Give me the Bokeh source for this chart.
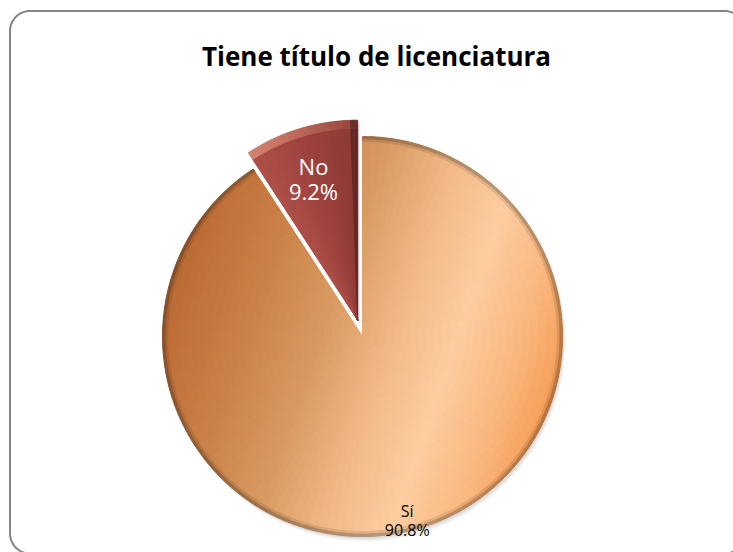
import numpy as np
from bokeh.plotting import figure
from bokeh.models import Range1d, ColumnDataSource, Label
from bokeh.core.properties import value
from bokeh.embed import file_html
from bokeh.resources import INLINE

# ---- data ----
categories = ["Sí", "No"]
shares = [90.8, 9.2]
slice_colors = ["#EEAD77", "#A4463F"]
label_colors = ["#000000", "#FFFFFF"]
label_sizes = ["16px", "22px"]
explode = [0, 17]
title_text = "Tiene título de licenciatura"

# ---- geometry (data space == screen pixels; data y upward) ----
W, H = 733, 552
cx, cy, R = 362, H - 336, 200

frac = np.array(shares) / 100.0
cum = np.concatenate([[0], np.cumsum(frac)]) * 2 * np.pi
start = np.pi / 2 - cum[:-1]
end = np.pi / 2 - cum[1:]
mid = (start + end) / 2
off = np.array(explode, dtype=float)
xs = cx + off * np.cos(mid)
ys = cy + off * np.sin(mid)

lab_r = np.array([0.96, 0.74]) * R
lab_dx = np.array([-10, -2])
lx = xs + lab_r * np.cos(mid) + lab_dx
ly = ys + lab_r * np.sin(mid)
texts = [f"{c}\n{s:.1f}%" for c, s in zip(categories, shares)]

src = ColumnDataSource(dict(x=xs, y=ys, start=start, end=end, color=slice_colors,
                            lx=lx, ly=ly, text=texts, tcolor=label_colors,
                            tsize=label_sizes, cat=categories))

p = figure(width=W, height=H, x_range=Range1d(0, W), y_range=Range1d(0, H),
           output_backend="svg", toolbar_location=None, min_border=0,
           background_fill_color="white", border_fill_color="white")
p.axis.visible = False
p.grid.visible = False
p.outline_line_color = None


# ---- helpers for shading ----
def hex2rgb(h):
    h = h.lstrip("#")
    return np.array([int(h[i:i + 2], 16) for i in (0, 2, 4)], dtype=float)


def rgb2hex(c):
    c = np.clip(np.round(c), 0, 255).astype(int)
    return "#%02x%02x%02x" % tuple(c)


def interp_color(t, stops, cols):
    cols = np.array([hex2rgb(c) for c in cols])
    return np.array([np.interp(t, stops, cols[:, k]) for k in range(3)])


def mix(a, b, t):
    return a * (1 - t) + b * t


# chart-area rounded border (runs off the visible page like the reference)
def rounded_rect(x0, y0, x1, y1, r, n=20):
    pts = []
    for (ccx, ccy, a0) in [(x1 - r, y1 - r, 0), (x0 + r, y1 - r, 90),
                           (x0 + r, y0 + r, 180), (x1 - r, y0 + r, 270)]:
        a = np.radians(np.linspace(a0, a0 + 90, n))
        pts += list(zip(ccx + r * np.cos(a), ccy + r * np.sin(a)))
    pts.append(pts[0])
    return [q[0] for q in pts], [q[1] for q in pts]


bx, by = rounded_rect(9.5, H - 553, 744, H - 10.5, 20)
p.line(bx, by, line_color="#858585", line_width=2)

# soft drop shadow
for k, a in zip([5, 3.5, 2], [0.04, 0.05, 0.06]):
    p.wedge(x=xs + k * 0.6, y=ys - k, radius=R, start_angle=start, end_angle=end,
            direction="clock", fill_color="#000000", fill_alpha=a, line_color=None)

# base slices
p.wedge(x="x", y="y", radius=R, start_angle="start", end_angle="end",
        direction="clock", source=src, fill_color="color", line_color=None)


# shading cells (subdivisions of each slice, built from the slice angles)
def si_color(sx, sy, r):
    u = ((sx - cx) * 0.944 + (sy - 336) * 0.33) / R
    c = interp_color(u, [-1.0, -0.6, -0.2, 0.15, 0.45, 0.75, 1.0],
                     ["#BA6A33", "#C97F45", "#D99A62", "#F2BA88", "#FCCDA1",
                      "#FAB87F", "#F59E58"])
    if r > 0.988:
        c = c * 0.74
    elif r > 0.975:
        c = c * 0.9
    return c


def no_color(v, r):
    c = interp_color(v, [0, 0.5, 1], ["#AE5048", "#9E423E", "#8A3934"])
    if r > 0.94:
        c = mix(c, hex2rgb("#E39C80"), 0.6 * (1 - v) + 0.1)
    if v > 0.95:
        c = c * 0.72
    return c


def cells(i, radii, na, fn):
    angs = np.linspace(start[i], end[i], na + 1)
    d = dict(x=[], y=[], ir=[], orr=[], sa=[], ea=[], c=[])
    for j in range(len(radii) - 1):
        r0, r1 = radii[j], radii[j + 1]
        for k in range(na):
            a0, a1 = angs[k], angs[k + 1]
            rm, am = (r0 + r1) / 2, (a0 + a1) / 2
            sx = xs[i] + rm * np.cos(am)
            sy = H - (ys[i] + rm * np.sin(am))
            d["x"].append(xs[i]); d["y"].append(ys[i])
            d["ir"].append(r0); d["orr"].append(r1)
            d["sa"].append(a1); d["ea"].append(a0)
            d["c"].append(rgb2hex(fn(sx, sy, rm / R, (k + 0.5) / na)))
    s = ColumnDataSource(d)
    p.annular_wedge(x="x", y="y", inner_radius="ir", outer_radius="orr",
                    start_angle="sa", end_angle="ea", direction="anticlock",
                    source=s, fill_color="c", line_color="c", line_width=1)


radii = R * np.concatenate([np.linspace(0, 0.96, 25), [0.975, 0.988, 1.0]])
cells(0, radii, 120, lambda sx, sy, r, v: si_color(sx, sy, r))
cells(1, radii, 16, lambda sx, sy, r, v: no_color(v, r))

p.text(x="lx", y="ly", text="text", source=src, text_color="tcolor",
       text_align="center", text_baseline="middle", text_font_size="tsize",
       text_font=value("Open Sans"), text_line_height=0.85)

p.add_layout(Label(x=376, y=H - 55, text=title_text, text_align="center",
                   text_baseline="middle", text_font="Open Sans", text_font_style="bold",
                   text_font_size="26px", text_color="#000000"))

open("out.html", "w").write(file_html(p, INLINE))
